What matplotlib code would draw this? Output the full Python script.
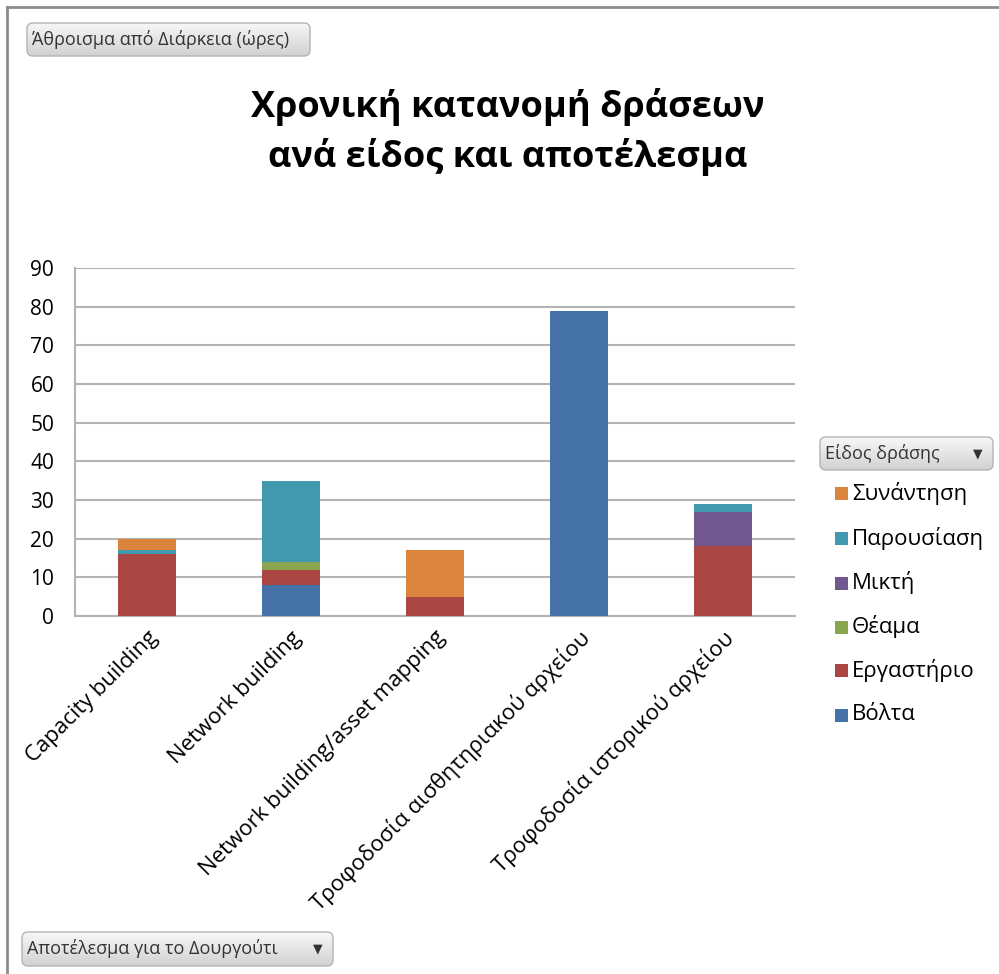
import matplotlib.pyplot as plt
import numpy as np
from matplotlib.patches import FancyBboxPatch, Rectangle
from matplotlib.lines import Line2D

plt.rcParams['font.family'] = ['Open Sans', 'DejaVu Sans']

# ---- data ----
categories = ['Capacity building', 'Network building', 'Network building/asset mapping',
              'Τροφοδοσία αισθητηριακού αρχείου', 'Τροφοδοσία ιστορικού αρχείου']
# stacked from bottom to top
series_names = ['Βόλτα', 'Εργαστήριο', 'Θέαμα', 'Μικτή', 'Παρουσίαση', 'Συνάντηση']
volta = [0, 8, 0, 79, 0]
ergastirio = [16, 4, 5, 0, 18]
theama = [0, 2, 0, 0, 0]
mikti = [0, 0, 0, 0, 9]
parousiasi = [1, 21, 0, 0, 2]
synantisi = [3, 0, 12, 0, 0]
series_values = [volta, ergastirio, theama, mikti, parousiasi, synantisi]
colors = ['#4572A7', '#AA4643', '#89A54E', '#71588F', '#4198AF', '#DB843D']
y_ticks = [0, 10, 20, 30, 40, 50, 60, 70, 80, 90]

W, H = 999, 974
fig = plt.figure(figsize=(W / 100, H / 100), dpi=100)

def fx(px):
    return px / W

def fy(py):
    return 1 - py / H

# chart frame (left and top edge)
fig.add_artist(Line2D([fx(7), fx(7)], [fy(7), 0], color='#8c8c8c', lw=2))
fig.add_artist(Line2D([fx(7), 1], [fy(7), fy(7)], color='#8c8c8c', lw=2))

ax = fig.add_axes([fx(75), fy(616), (795 - 75) / W, (616 - 268) / H])
x = np.arange(len(categories))
bottom = np.zeros(len(categories))
for name, vals, c in zip(series_names, series_values, colors):
    ax.bar(x, vals, width=0.4, bottom=bottom, color=c, label=name, zorder=3)
    bottom += np.array(vals)

ax.set_xlim(-0.5, len(categories) - 0.5)
ax.set_ylim(0, 90)
ax.set_yticks(y_ticks)
ax.yaxis.grid(True, color='#b3b3b3', lw=1.5, zorder=0)
for s in ['top', 'right']:
    ax.spines[s].set_visible(False)
for s in ['bottom', 'left']:
    ax.spines[s].set_color('#b3b3b3')
    ax.spines[s].set_linewidth(1.5)
ax.tick_params(axis='y', length=0, pad=15, labelsize=15)
ax.tick_params(axis='x', length=0, pad=8, labelsize=16)
ax.set_xticks(x)
ax.set_xticklabels(categories, rotation=45, ha='right', rotation_mode='anchor')

# title
fig.text(fx(508), fy(132), 'Χρονική κατανομή δράσεων\nανά είδος και αποτέλεσμα',
         ha='center', va='center', fontsize=26, fontweight='bold', linespacing=1.4)

# field buttons with a light vertical gradient
grad = np.linspace(0.97, 0.82, 64).reshape(-1, 1)

def button(x0, y0, x1, y1, label, arrow=False):
    box = FancyBboxPatch((fx(x0), fy(y1)), fx(x1 - x0), (y1 - y0) / H,
                         boxstyle='round,pad=0,rounding_size=0.006',
                         transform=fig.transFigure, facecolor='none',
                         edgecolor='#b4b4b4', lw=1, zorder=3)
    fig.add_artist(box)
    bax = fig.add_axes([fx(x0), fy(y1), fx(x1 - x0), (y1 - y0) / H])
    bax.axis('off')
    im = bax.imshow(grad, cmap='gray', vmin=0, vmax=1, aspect='auto',
                    extent=[0, 1, 0, 1])
    im.set_clip_path(box)
    fig.text(fx(x0 + 5), fy((y0 + y1) / 2), label, ha='left', va='center',
             fontsize=13, color='#333333', zorder=5)
    if arrow:
        fig.text(fx(x1 - 15), fy((y0 + y1) / 2), '▼', ha='center', va='center',
                 fontsize=9, color='#333333', family='DejaVu Sans', zorder=5)

button(27, 23, 310, 56, 'Άθροισμα από Διάρκεια (ώρες)')
button(22, 932, 333, 966, 'Αποτέλεσμα για το Δουργούτι', arrow=True)
button(820, 437, 993, 470, 'Είδος δράσης', arrow=True)

# legend, top entry is the last stacked series
legend_y = [493, 538, 583, 627, 670, 715]
for yy, name, c in zip(legend_y, series_names[::-1], colors[::-1]):
    fig.add_artist(Rectangle((fx(835), fy(yy + 7)), fx(13), 13 / H,
                             transform=fig.transFigure, facecolor=c, edgecolor='none'))
    fig.text(fx(852), fy(yy), name, ha='left', va='center', fontsize=16)

fig.savefig('out.png', dpi=100)
